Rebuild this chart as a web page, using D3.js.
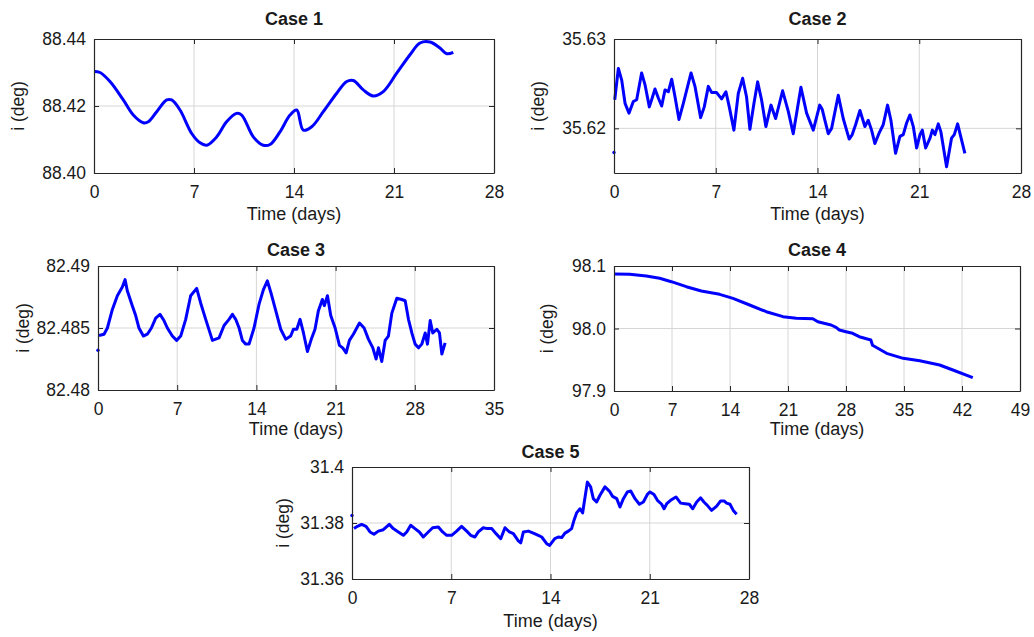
<!DOCTYPE html>
<html>
<head>
  <meta charset="utf-8" />
  <title>Inclination, five cases</title>
  <script src="https://cdn.jsdelivr.net/npm/d3@7"></script>
  <style>
    body { margin: 0; background: #fff; }
    text { font-family: "Liberation Sans", Arial, sans-serif; fill: #1a1a1a; }
  </style>
</head>
<body>
<script>
// values (time in days, inclination in deg)
var case1Time = [0, 0.42, 1.12, 2.05, 2.75, 3.45, 3.8, 4.39, 5.09, 5.44,
  6.02, 6.84, 7.42, 7.89, 8.59, 9.28, 9.98, 10.34, 11.15, 11.85,
  12.32, 13.02, 13.72, 14.19, 14.65, 15.24, 16.05, 16.99, 17.69, 18.15,
  18.85, 19.55, 20.25, 21.19, 22.12, 22.82, 23.52, 24.22, 24.69, 25.15];
var case1Incl = [88.4303, 88.430, 88.4273, 88.4218, 88.4173, 88.415, 88.4153, 88.4183, 88.4218, 88.4218,
  88.4188, 88.4118, 88.409, 88.4083, 88.4108, 88.4153, 88.4178, 88.4173, 88.4108, 88.4083,
  88.4085, 88.4123, 88.4173, 88.4188, 88.4128, 88.4138, 88.4183, 88.4238, 88.4273, 88.4276,
  88.4248, 88.423, 88.4243, 88.4298, 88.4353, 88.4388, 88.4391, 88.4373, 88.4356, 88.436];

var case2Time = [0, 0.05, 0.30, 0.53, 0.76, 1.03, 1.33, 1.56, 1.90, 2.13,
  2.43, 2.59, 2.82, 3.05, 3.28, 3.51, 3.74, 3.97, 4.20, 4.47,
  4.77, 5.30, 5.57, 5.96, 6.21, 6.49, 6.72, 7.06, 7.40, 7.70,
  7.93, 8.25, 8.55, 8.85, 9.12, 9.35, 9.63, 9.88, 10.15, 10.45,
  10.80, 11.12, 11.60, 11.99, 12.33, 12.86, 13.25, 13.71, 14.15, 14.33,
  14.51, 14.74, 14.97, 15.43, 15.77, 16.0, 16.18, 16.39, 16.62, 16.92,
  17.26, 17.49, 17.72, 17.95, 18.22, 18.52, 18.82, 19.05, 19.37, 19.67,
  19.90, 20.13, 20.36, 20.59, 20.82, 21.05, 21.21, 21.44, 21.74, 21.90,
  22.08, 22.31, 22.49, 22.88, 23.22, 23.41, 23.64, 23.91, 24.14];
var case2Incl = [35.6173, 35.6232, 35.6267, 35.6254, 35.6228, 35.6217, 35.6230, 35.6232, 35.6262, 35.6249,
  35.6224, 35.6232, 35.6244, 35.6234, 35.6225, 35.6243, 35.6241, 35.6255, 35.6235, 35.6210,
  35.6228, 35.6262, 35.6247, 35.6212, 35.6224, 35.6247, 35.6240, 35.6240, 35.6233, 35.6241,
  35.6224, 35.6198, 35.6239, 35.6256, 35.6235, 35.6199, 35.6228, 35.6252, 35.6232, 35.6202,
  35.6226, 35.6211, 35.6242, 35.6219, 35.6194, 35.6246, 35.6217, 35.6198, 35.6226, 35.6221,
  35.6209, 35.6194, 35.6200, 35.6237, 35.6211, 35.6198, 35.6188, 35.6193, 35.6204, 35.6220,
  35.6202, 35.6209, 35.6198, 35.6183, 35.6194, 35.6204, 35.6226, 35.6209, 35.6172, 35.6191,
  35.6193, 35.6206, 35.6215, 35.6202, 35.6178, 35.6193, 35.6198, 35.6178, 35.6189, 35.6198,
  35.6193, 35.6205, 35.6196, 35.6157, 35.6189, 35.6193, 35.6205, 35.6187, 35.6172];

var case3Time = [0, 0.09, 0.53, 0.83, 1.27, 1.71, 2.15, 2.39, 2.59, 3.03,
  3.33, 3.62, 4.01, 4.36, 4.72, 5.10, 5.48, 5.83, 6.13, 6.57,
  6.95, 7.31, 7.75, 8.19, 8.72, 9.08, 9.52, 10.11, 10.70, 11.14,
  11.58, 11.88, 12.17, 12.47, 12.76, 13.06, 13.35, 13.79, 14.23, 14.62,
  14.97, 15.33, 15.71, 16.15, 16.59, 17.03, 17.27, 17.57, 17.86, 18.16,
  18.51, 18.89, 19.18, 19.48, 19.83, 20.0, 20.28, 20.57, 20.96, 21.34,
  21.63, 21.93, 22.22, 22.57, 23.11, 23.52, 23.90, 24.29, 24.58, 24.79,
  25.08, 25.38, 25.67, 25.97, 26.41, 26.85, 27.15, 27.44, 27.74, 28.03,
  28.33, 28.62, 28.92, 29.12, 29.36, 29.59, 29.95, 30.18, 30.39, 30.68];
var case3Incl = [82.4832, 82.4844, 82.4845, 82.4850, 82.4865, 82.4876, 82.4883, 82.4889, 82.4880, 82.4868,
  82.4860, 82.4850, 82.48435, 82.4845, 82.4850, 82.4858, 82.4861, 82.4856, 82.4850, 82.48435,
  82.4840, 82.48435, 82.4857, 82.4876, 82.4882, 82.4870, 82.4857, 82.4840, 82.4842, 82.4852,
  82.4857, 82.4861, 82.4857, 82.4850, 82.4840, 82.4837, 82.4837, 82.4850, 82.4869, 82.4881,
  82.4888, 82.4877, 82.4864, 82.4849, 82.4841, 82.48435, 82.4849, 82.4849, 82.4857, 82.4846,
  82.4831, 82.4842, 82.4849, 82.4864, 82.4873, 82.4868, 82.4876, 82.4860, 82.4850, 82.4836,
  82.4834, 82.4830, 82.4840, 82.4845, 82.4854, 82.4850, 82.4841, 82.4834, 82.4825, 82.4834,
  82.4823, 82.4840, 82.48435, 82.4862, 82.4874, 82.4873, 82.4872, 82.4857, 82.4846, 82.4837,
  82.4834, 82.4837, 82.4846, 82.4837, 82.4856, 82.4846, 82.4849, 82.4846, 82.4829, 82.4838];

var case4Time = [0, 1.89, 3.9, 5.51, 6.92, 8.73, 10.54, 12.75, 14.36, 16.37,
  18.38, 20.4, 22.0, 24.0, 24.6, 26.2, 26.8, 27.2, 28.0, 28.8,
  29.6, 31.0, 31.2, 32.9, 34.9, 36.9, 39.3, 40.9, 43.3];
var case4Incl = [98.0872, 98.0867, 98.084, 98.0803, 98.0749, 98.0669, 98.060, 98.0547, 98.0483, 98.0376,
  98.0269, 98.0189, 98.0163, 98.0157, 98.0109, 98.0056, 98.0019, 97.9976, 97.9949, 97.9923,
  97.9869, 97.9816, 97.9731, 97.9603, 97.9523, 97.9485, 97.9416, 97.9336, 97.9213];

var case5Time = [0, 0.14, 0.38, 0.68, 0.99, 1.27, 1.55, 1.86, 2.21, 2.63,
  2.91, 3.27, 3.62, 3.86, 4.14, 4.44, 4.75, 5.03, 5.38, 5.69,
  6.09, 6.39, 6.68, 7.03, 7.38, 7.73, 8.09, 8.37, 8.67, 8.91,
  9.26, 9.54, 9.85, 10.16, 10.49, 10.79, 11.1, 11.38, 11.73, 11.90,
  12.09, 12.44, 12.79, 13.14, 13.38, 13.73, 13.94, 14.3, 14.55, 14.79,
  15.02, 15.26, 15.49, 15.66, 15.84, 16.08, 16.27, 16.31, 16.60, 16.83,
  17.02, 17.25, 17.49, 17.84, 18.15, 18.38, 18.67, 18.90, 19.14, 19.42,
  19.66, 19.96, 20.27, 20.55, 20.83, 21.02, 21.30, 21.54, 21.84, 22.01,
  22.2, 22.47, 22.85, 23.18, 23.49, 23.79, 24.03, 24.31, 24.59, 24.82,
  25.06, 25.36, 25.72, 26.0, 26.24, 26.42, 26.66, 26.89, 27.13];
var case5Incl = [31.3827, 31.3780, 31.3788, 31.3795, 31.3788, 31.3768, 31.3760, 31.3771, 31.3776, 31.3795,
  31.3780, 31.3768, 31.3756, 31.3768, 31.3792, 31.3780, 31.3768, 31.3750, 31.3768, 31.3783,
  31.3786, 31.3768, 31.3756, 31.3756, 31.3771, 31.3788, 31.3771, 31.3756, 31.3750, 31.3768,
  31.3783, 31.3780, 31.3780, 31.3762, 31.3744, 31.3783, 31.3768, 31.3762, 31.3736, 31.3729,
  31.3768, 31.3771, 31.3764, 31.3756, 31.3750, 31.3726, 31.3720, 31.3744, 31.3750, 31.3748,
  31.3764, 31.3771, 31.3780, 31.3810, 31.3836, 31.3851, 31.3836, 31.3851, 31.3946, 31.3929,
  31.3887, 31.3875, 31.3899, 31.3929, 31.3914, 31.3895, 31.3887, 31.3857, 31.3887, 31.3911,
  31.3914, 31.3887, 31.3867, 31.3875, 31.3902, 31.3911, 31.3902, 31.3881, 31.3867, 31.3851,
  31.3869, 31.3881, 31.3893, 31.3871, 31.3869, 31.3867, 31.3851, 31.3875, 31.3890, 31.3875,
  31.3863, 31.3845, 31.3860, 31.3879, 31.3879, 31.3871, 31.3867, 31.3845, 31.3831];

// tick values and labels
var ticks28 = [0, 7, 14, 21, 28];
var ticks35 = [0, 7, 14, 21, 28, 35];
var ticks49 = [0, 7, 14, 21, 28, 35, 42, 49];
var case1YTicks = [88.40, 88.42, 88.44], case1YLabels = ["88.40", "88.42", "88.44"];
var case2YTicks = [35.62, 35.63], case2YLabels = ["35.62", "35.63"];
var case3YTicks = [82.48, 82.485, 82.49], case3YLabels = ["82.48", "82.485", "82.49"];
var case4YTicks = [97.9, 98.0, 98.1], case4YLabels = ["97.9", "98.0", "98.1"];
var case5YTicks = [31.36, 31.38, 31.40], case5YLabels = ["31.36", "31.38", "31.4"];

// layout of each subplot (box edges in px)
var panels = [
  { title: "Case 1", t: case1Time, v: case1Incl, xTicks: ticks28, yDom: [88.40, 88.44], yTicks: case1YTicks, yLabels: case1YLabels,
    l: 94, r: 494, top: 39, bot: 173, titleY: 25, xLabY: 47, yLabX: 18, detach: false, curve: d3.curveCatmullRom },
  { title: "Case 2", t: case2Time, v: case2Incl, xTicks: ticks28, yDom: [35.615, 35.63], yTicks: case2YTicks, yLabels: case2YLabels,
    l: 614, r: 1021, top: 39, bot: 173, titleY: 25, xLabY: 47, yLabX: 538, detach: true, curve: d3.curveLinear },
  { title: "Case 3", t: case3Time, v: case3Incl, xTicks: ticks35, yDom: [82.48, 82.49], yTicks: case3YTicks, yLabels: case3YLabels,
    l: 98, r: 494, top: 266, bot: 390, titleY: 256, xLabY: 45, yLabX: 23, detach: true, curve: d3.curveLinear },
  { title: "Case 4", t: case4Time, v: case4Incl, xTicks: ticks49, yDom: [97.9, 98.1], yTicks: case4YTicks, yLabels: case4YLabels,
    l: 614, r: 1020, top: 266, bot: 391, titleY: 256, xLabY: 44, yLabX: 547, detach: false, curve: d3.curveLinear },
  { title: "Case 5", t: case5Time, v: case5Incl, xTicks: ticks28, yDom: [31.36, 31.40], yTicks: case5YTicks, yLabels: case5YLabels,
    l: 352, r: 749, top: 467, bot: 579, titleY: 458, xLabY: 48, yLabX: 283, detach: true, curve: d3.curveLinear }
];

var svg = d3.select("body").append("svg")
  .attr("width", 1034)
  .attr("height", 637);

panels.forEach(function (p) {
  var x = d3.scaleLinear().domain([0, p.xTicks[p.xTicks.length - 1]]).range([p.l, p.r]);
  var y = d3.scaleLinear().domain(p.yDom).range([p.bot, p.top]);
  var g = svg.append("g");

  // grid
  g.append("g").selectAll("line").data(p.xTicks.slice(1, -1)).enter().append("line")
    .attr("x1", function (d) { return x(d); }).attr("x2", function (d) { return x(d); })
    .attr("y1", p.top).attr("y2", p.bot)
    .attr("stroke", "#d6d6d6").attr("stroke-width", 1);
  g.append("g").selectAll("line").data(p.yTicks.filter(function (d) { return y(d) > p.top + 1 && y(d) < p.bot - 1; })).enter().append("line")
    .attr("y1", function (d) { return y(d); }).attr("y2", function (d) { return y(d); })
    .attr("x1", p.l).attr("x2", p.r)
    .attr("stroke", "#d6d6d6").attr("stroke-width", 1);

  // data line
  var pts = p.t.map(function (d, i) { return [d, p.v[i]]; });
  var line = d3.line()
    .defined(function (d, i) { return !(p.detach && i === 0); })
    .x(function (d) { return x(d[0]); })
    .y(function (d) { return y(d[1]); })
    .curve(p.curve);
  g.append("path").datum(pts)
    .attr("d", line)
    .attr("fill", "none")
    .attr("stroke", "#0000ff")
    .attr("stroke-width", 3)
    .attr("stroke-linejoin", "round");
  if (p.detach) {
    g.append("circle")
      .attr("cx", x(pts[0][0])).attr("cy", y(pts[0][1]))
      .attr("r", 1.7).attr("fill", "#0000ff");
  }

  // axes, ticks pointing in
  g.append("g").attr("transform", "translate(0," + p.bot + ")")
    .call(d3.axisBottom(x).tickValues(p.xTicks).tickSizeInner(-5).tickSizeOuter(0).tickPadding(13));
  g.append("g").attr("transform", "translate(" + p.l + ",0)")
    .call(d3.axisLeft(y).tickValues(p.yTicks).tickFormat(function (d, i) { return p.yLabels[i]; })
      .tickSizeInner(-5).tickSizeOuter(0).tickPadding(8));
  g.append("g").attr("transform", "translate(0," + p.top + ")")
    .call(d3.axisTop(x).tickValues(p.xTicks).tickFormat("").tickSizeInner(-5).tickSizeOuter(0));
  g.append("g").attr("transform", "translate(" + p.r + ",0)")
    .call(d3.axisRight(y).tickValues(p.yTicks).tickFormat("").tickSizeInner(-5).tickSizeOuter(0));

  g.selectAll(".domain").attr("stroke", "#262626").attr("stroke-width", 1.2);
  g.selectAll(".tick line").attr("stroke", "#262626");
  g.selectAll(".tick text").attr("font-size", 17.5).attr("font-family", "Liberation Sans, Arial, sans-serif").attr("fill", "#1a1a1a");

  // labels
  g.append("text")
    .attr("x", (p.l + p.r) / 2).attr("y", p.titleY)
    .attr("text-anchor", "middle")
    .attr("font-size", 18).attr("font-weight", "bold")
    .text(p.title);
  g.append("text")
    .attr("x", (p.l + p.r) / 2).attr("y", p.bot + p.xLabY)
    .attr("text-anchor", "middle")
    .attr("font-size", 18)
    .text("Time (days)");
  g.append("text")
    .attr("transform", "translate(" + p.yLabX + "," + (p.top + p.bot) / 2 + ") rotate(-90)")
    .attr("dy", "0.35em")
    .attr("text-anchor", "middle")
    .attr("font-size", 17.5)
    .text("i (deg)");
});
</script>
</body>
</html>
